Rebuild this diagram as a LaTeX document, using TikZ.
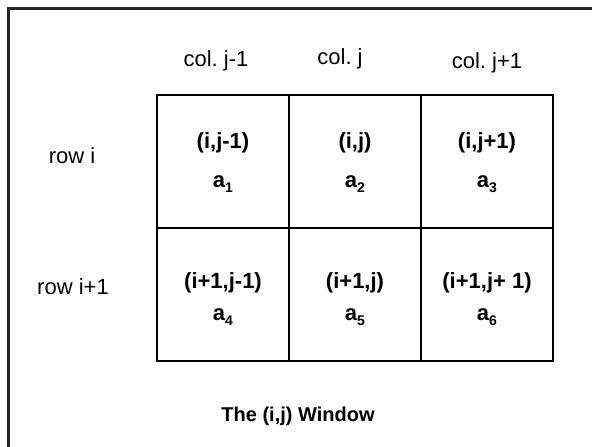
\documentclass[tikz,border=0pt]{standalone}
\usepackage{fontspec}
\setmainfont{Liberation Sans}
\frenchspacing
% lowered index digit for the element names a1 ... a6
\newcommand{\sbx}[1]{\raisebox{-0.45ex}{\fontsize{14}{14}\selectfont #1}}
\begin{document}
\begin{tikzpicture}[x=1pt,y=-1pt,
  frameline/.style={line width=3pt, draw=black!85},
  cellbox/.style={draw, line width=1.5pt, minimum width=132pt, minimum height=133pt, inner sep=0pt},
  plainlbl/.style={font=\fontsize{22}{22}\selectfont, anchor=base, inner sep=0pt},
  boldlbl/.style={font=\fontsize{22}{22}\selectfont\bfseries, anchor=base, inner sep=0pt},
  titlelbl/.style={font=\fontsize{20}{20}\selectfont\bfseries, anchor=base, inner sep=0pt}]
\useasboundingbox (0,0) rectangle (592,447);
\clip (0,0) rectangle (592,447);

% outer frame (left and top edges)
\coordinate (fb) at (8,470);
\coordinate (fc) at (8,8);
\coordinate (fr) at (610,8);
\draw[frameline] (fb) -- (fc) -- (fr);

% the 2x3 window
\node[cellbox] (c11) at (223,161.5) {};
\node[cellbox] (c12) at (355,161.5) {};
\node[cellbox] (c13) at (487,161.5) {};
\node[cellbox] (c21) at (223,294.5) {};
\node[cellbox] (c22) at (355,294.5) {};
\node[cellbox] (c23) at (487,294.5) {};

% column headings
\node[plainlbl] (h1) at (216,66) {col. j-1};
\node[plainlbl] (h2) at (340,64) {col. j};
\node[plainlbl] (h3) at (487,68) {col. j+1};

% row headings
\node[plainlbl] (r1) at (72,163) {row i};
\node[plainlbl] (r2) at (73,294) {row i+1};

% cell contents
\node[boldlbl] (p11) at (223,148) {(i,j-1)};
\node[boldlbl] (a11) at (223,187) {a\sbx{1}};
\node[boldlbl] (p12) at (355,148) {(i,j)};
\node[boldlbl] (a12) at (355,187) {a\sbx{2}};
\node[boldlbl] (p13) at (487,148) {(i,j+1)};
\node[boldlbl] (a13) at (487,187) {a\sbx{3}};
\node[boldlbl] (p21) at (223,288) {(i+1,j-1)};
\node[boldlbl] (a21) at (223,320) {a\sbx{4}};
\node[boldlbl] (p22) at (355,288) {(i+1,j)};
\node[boldlbl] (a22) at (355,320) {a\sbx{5}};
\node[boldlbl] (p23) at (487,288) {(i+1,j+ 1)};
\node[boldlbl] (a23) at (487,320) {a\sbx{6}};

% caption
\node[titlelbl] (ttl) at (298,421) {The (i,j) Window};
\end{tikzpicture}
\end{document}
